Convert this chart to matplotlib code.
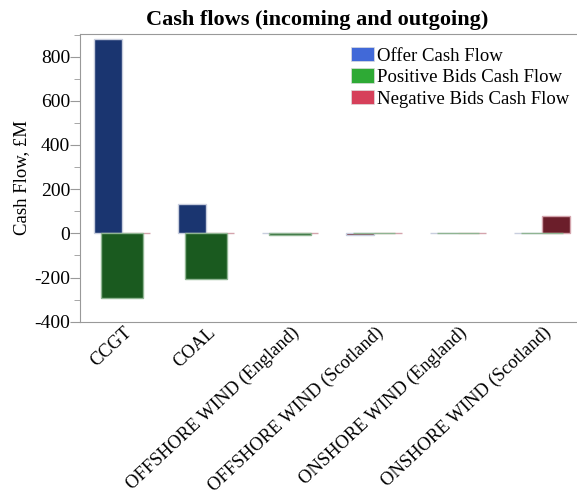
import numpy as np
import matplotlib
matplotlib.use("Agg")
import matplotlib.pyplot as plt
import matplotlib.transforms as mtransforms
from matplotlib.patches import Patch
from matplotlib.ticker import MultipleLocator

plt.rcParams["font.family"] = ["Liberation Serif", "DejaVu Serif"]
plt.rcParams["axes.unicode_minus"] = False

categories = ["CCGT", "COAL", "OFFSHORE WIND (England)", "OFFSHORE WIND (Scotland)",
              "ONSHORE WIND (England)", "ONSHORE WIND (Scotland)"]
offer_cf = [878, 131, 0, -6, 0, 0]
pos_bids_cf = [-294, -207, -6, 0, 0, 0]
neg_bids_cf = [0, 3, 0, 0, 3, 78]

series_names = ["Offer Cash Flow", "Positive Bids Cash Flow", "Negative Bids Cash Flow"]
legend_colors = ["#4169d8", "#2eaa35", "#d6405a"]

# the one negative offer bar is drawn in the dark red shade
offer_fill = ["#1a3570", "#1a3570", "#1a3570", "#6b1e2a", "#1a3570", "#1a3570"]

fig = plt.figure(figsize=(5.77, 4.96), dpi=100)
ax = fig.add_axes([80 / 577, 1 - 321.7 / 496, 497 / 577, (321.7 - 34.3) / 496])

x = np.arange(len(categories))
ax.bar(x + 1 / 6, neg_bids_cf, width=1 / 3, color="#6b1e2a", edgecolor="#d4a4ad", lw=1, zorder=2)
ax.bar(x - 1 / 6, offer_cf, width=1 / 3, color=offer_fill, edgecolor="#c8cede", lw=1, zorder=3)
ax.bar(x, pos_bids_cf, width=0.5, color="#1a5a1f", edgecolor="#8fb592", lw=1, zorder=4)

ax.set_xlim(-0.502, 5.42)
ax.set_ylim(-400, 901)
ax.yaxis.set_major_locator(MultipleLocator(200))
ax.yaxis.set_minor_locator(MultipleLocator(100))
ax.tick_params(axis="y", which="major", length=7, color="#999999", labelsize=14, pad=0)
ax.tick_params(axis="y", which="minor", length=4, color="#999999")
ax.set_xticks(x)
ax.set_xticklabels(categories, rotation=43, ha="right", va="center",
                   rotation_mode="anchor", fontsize=13.4)
ax.tick_params(axis="x", length=0, pad=6)

# nudge the slanted labels so they end just right of each group
shift = mtransforms.ScaledTranslation(7 / 100, 0, fig.dpi_scale_trans)
for lbl in ax.get_xticklabels():
    lbl.set_transform(lbl.get_transform() + shift)

for side in ["left", "bottom", "top"]:
    ax.spines[side].set_color("#999999")
ax.spines["right"].set_visible(False)

ax.set_ylabel("Cash Flow, £M", fontsize=13.5, labelpad=3)
fig.text(316.7 / 577, 1 - 20 / 496, "Cash flows (incoming and outgoing)", ha="center", va="center",
         fontsize=16, fontweight="bold")

handles = [Patch(facecolor=c, edgecolor="#dddddd", lw=0.5) for c in legend_colors]
fig.legend(handles, series_names, loc="upper left", bbox_to_anchor=(351 / 577, 1 - 47 / 496),
           frameon=False, fontsize=13.5, borderpad=0, borderaxespad=0, handlelength=1.25,
           handleheight=0.8, handletextpad=0.12, labelspacing=0.2)

fig.savefig("out.png", dpi=100)
